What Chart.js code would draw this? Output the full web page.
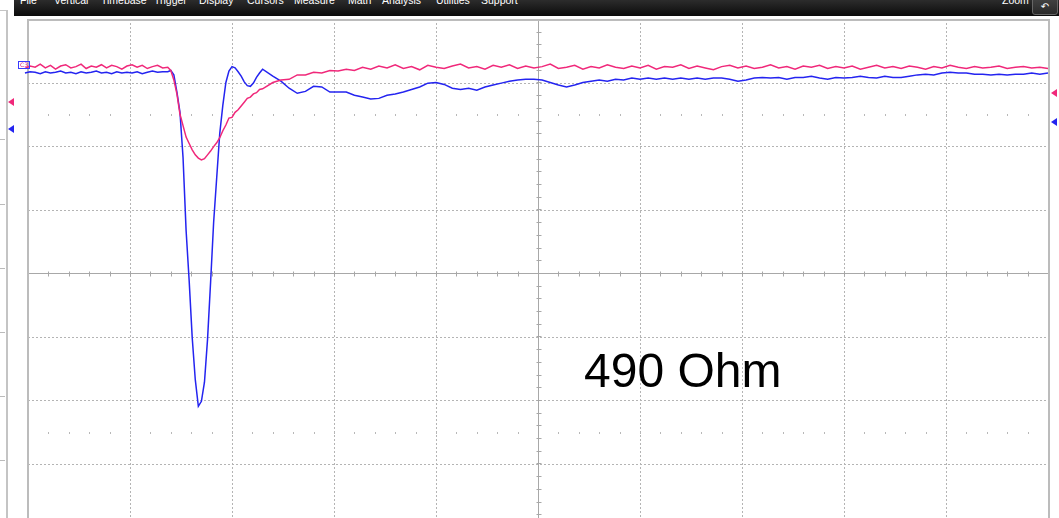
<!DOCTYPE html>
<html>
<head>
<meta charset="utf-8">
<script src="https://cdn.jsdelivr.net/npm/chart.js@4.4.1/dist/chart.umd.min.js"></script>
<style>
  html, body { margin: 0; padding: 0; background: #fff; overflow: hidden; width: 1059px; height: 518px; }
  #wrap { position: absolute; left: 0; top: 0; width: 1059px; height: 540px; }
  #menubar { position: absolute; left: 14px; top: 0; width: 1045px; height: 16px;
    background: linear-gradient(#2c2c2c, #0b0b0b); overflow: hidden; }
  .menu { position: absolute; top: -6px; color: #fff; font: 10.5px "Liberation Sans", Arial, sans-serif; white-space: nowrap; }
  #zoomBtn { position: absolute; left: 1032px; top: -3px; width: 24px; height: 16px; border: 1px solid #666;
    border-radius: 3px; background: linear-gradient(#444, #2a2a2a); color: #fff; font: 10px "DejaVu Sans", sans-serif;
    text-align: center; line-height: 18px; }
  #sidePanel { position: absolute; left: 0; top: 10px; width: 6px; height: 520px; border-top: 1px solid #c4c4c4; border-right: 2px solid #c4c4c4; }
  .sideTick { position: absolute; left: 0; width: 5px; height: 0; border-top: 1px dashed #bbb; }
  .arrowL { position: absolute; width: 0; height: 0; border-top: 4px solid transparent; border-bottom: 4px solid transparent; border-right: 6px solid; }
  #label490 { position: absolute; left: 584px; top: 347px; font: 48px/1 "Liberation Sans", Arial, sans-serif; color: #000; white-space: nowrap; }
  #chTag { position: absolute; left: 18px; top: 61px; font: 6px "DejaVu Sans", sans-serif; color: #e0207a; border: 1px solid #3a3aff; padding: 0 1px; line-height: 6px; }
</style>
</head>
<body>
<div id="wrap"><canvas id="scope"></canvas></div>

<div id="sidePanel"></div>
<div class="sideTick" style="top:139px"></div>
<div class="sideTick" style="top:204px"></div>
<div class="sideTick" style="top:268px;border-top-style:solid"></div>
<div class="sideTick" style="top:332px"></div>
<div class="sideTick" style="top:396px"></div>
<div class="sideTick" style="top:460px"></div>

<div id="menubar">
  <span class="menu" style="left:6px">File</span>
  <span class="menu" style="left:40px">Vertical</span>
  <span class="menu" style="left:87px">Timebase</span>
  <span class="menu" style="left:140px">Trigger</span>
  <span class="menu" style="left:185px">Display</span>
  <span class="menu" style="left:233px">Cursors</span>
  <span class="menu" style="left:280px">Measure</span>
  <span class="menu" style="left:334px">Math</span>
  <span class="menu" style="left:368px">Analysis</span>
  <span class="menu" style="left:422px">Utilities</span>
  <span class="menu" style="left:467px">Support</span>
  <span class="menu" style="left:988px">Zoom</span>
</div>
<div id="zoomBtn">&#x21B6;</div>

<div class="arrowL" style="left:8px;top:98px;border-right-color:#f0287a"></div>
<div class="arrowL" style="left:8px;top:125px;border-right-color:#2424f0"></div>
<div class="arrowL" style="left:1051px;top:89px;border-right-color:#f0287a"></div>
<div class="arrowL" style="left:1051px;top:118px;border-right-color:#2424f0"></div>
<div id="chTag">C3</div>

<div id="label490">490 Ohm</div>

<script>
// time in horizontal divisions, amplitude in vertical divisions
const timeDiv = [
  -0.08, -0.03, 0.02, 0.07, 0.12, 0.17, 0.22, 0.27, 0.32, 0.37,
  0.42, 0.47, 0.52, 0.57, 0.62, 0.67, 0.72, 0.77, 0.82, 0.87,
  0.92, 0.97, 1.02, 1.07, 1.12, 1.17, 1.22, 1.27, 1.32, 1.37,
  1.40, 1.43, 1.46, 1.49, 1.52, 1.55, 1.58, 1.61, 1.64, 1.67,
  1.70, 1.73, 1.76, 1.79, 1.82, 1.85, 1.88, 1.91, 1.94, 1.97,
  2.00, 2.03, 2.06, 2.09, 2.12, 2.15, 2.18, 2.21, 2.24, 2.27, 2.30,
  2.40, 2.48, 2.56, 2.64, 2.72, 2.80, 2.88, 2.96, 3.04, 3.12,
  3.20, 3.28, 3.36, 3.44, 3.52, 3.60, 3.68, 3.76, 3.84, 3.92,
  4.00, 4.08, 4.16, 4.24, 4.32, 4.40, 4.48, 4.56, 4.64, 4.72,
  4.80, 4.88, 4.96, 5.04, 5.12, 5.20, 5.28, 5.36, 5.44, 5.52,
  5.60, 5.68, 5.76, 5.84, 5.92, 6.00, 6.08, 6.16, 6.24, 6.32,
  6.40, 6.48, 6.56, 6.64, 6.72, 6.80, 6.88, 6.96, 7.04, 7.12,
  7.20, 7.28, 7.36, 7.44, 7.52, 7.60, 7.68, 7.76, 7.84, 7.92,
  8.00, 8.08, 8.16, 8.24, 8.32, 8.40, 8.48, 8.56, 8.64, 8.72,
  8.80, 8.88, 8.96, 9.04, 9.12, 9.20, 9.28, 9.36, 9.44, 9.52,
  9.60, 9.68, 9.76, 9.84, 9.92, 10.00
];

const pinkTrace = [
  3.27, 3.22, 3.26, 3.24, 3.29, 3.23, 3.27, 3.21, 3.26, 3.28,
  3.23, 3.25, 3.29, 3.22, 3.26, 3.24, 3.28, 3.23, 3.27, 3.25,
  3.21, 3.26, 3.28, 3.24, 3.27, 3.22, 3.25, 3.27, 3.23, 3.24,
  3.19, 3.04, 2.82, 2.50, 2.32, 2.14, 2.04, 1.94, 1.86, 1.81,
  1.78, 1.80, 1.86, 1.92, 1.99, 2.05, 2.13, 2.24, 2.33, 2.44,
  2.45, 2.53, 2.57, 2.63, 2.69, 2.75, 2.77, 2.82, 2.84, 2.89, 2.90,
  3.00, 3.04, 3.05, 3.12, 3.12, 3.16, 3.15, 3.19, 3.18, 3.21,
  3.19, 3.24, 3.21, 3.26, 3.23, 3.28, 3.22, 3.25, 3.20, 3.27,
  3.24, 3.22, 3.26, 3.29, 3.23, 3.25, 3.21, 3.27, 3.24, 3.28,
  3.22, 3.26, 3.23, 3.25, 3.29, 3.22, 3.24, 3.27, 3.21, 3.25,
  3.23, 3.28, 3.24, 3.22, 3.26, 3.23, 3.27, 3.21, 3.25, 3.24,
  3.28, 3.22, 3.26, 3.23, 3.20, 3.25, 3.27, 3.23, 3.26, 3.22,
  3.24, 3.28, 3.23, 3.25, 3.21, 3.26, 3.24, 3.27, 3.22, 3.25,
  3.23, 3.26, 3.21, 3.24, 3.27, 3.23, 3.25, 3.22, 3.26, 3.24,
  3.21, 3.25, 3.23, 3.27, 3.24, 3.22, 3.25, 3.23, 3.24, 3.26,
  3.22, 3.24, 3.25, 3.23, 3.24, 3.22
];

const blueTrace = [
  3.17, 3.15, 3.17, 3.16, 3.14, 3.17, 3.15, 3.16, 3.18, 3.15,
  3.16, 3.14, 3.17, 3.15, 3.16, 3.18, 3.15, 3.16, 3.14, 3.17,
  3.15, 3.16, 3.15, 3.17, 3.14, 3.16, 3.18, 3.16, 3.17, 3.17,
  3.19, 3.12, 2.85, 2.53, 1.82, 0.67, -0.12, -1.02, -1.68, -2.10,
  -2.02, -1.72, -1.05, -0.15, 0.80, 1.50, 2.20, 2.64, 3.00, 3.18,
  3.25, 3.23, 3.17, 3.10, 3.01, 2.95, 2.94, 2.99, 3.08, 3.15, 3.21,
  3.10, 3.02, 2.91, 2.83, 2.86, 2.94, 2.93, 2.85, 2.85, 2.85,
  2.80, 2.77, 2.74, 2.75, 2.80, 2.82, 2.85, 2.89, 2.93, 2.99,
  3.00, 2.97, 2.91, 2.89, 2.91, 2.88, 2.93, 2.96, 2.99, 3.02,
  3.04, 3.05, 3.05, 3.04, 3.00, 2.96, 2.93, 2.96, 3.00, 3.02,
  3.04, 3.02, 3.05, 3.04, 3.07, 3.05, 3.07, 3.05, 3.07, 3.05,
  3.07, 3.05, 3.07, 3.05, 3.07, 3.07, 3.05, 3.02, 3.04, 3.07,
  3.08, 3.07, 3.08, 3.05, 3.08, 3.08, 3.10, 3.07, 3.05, 3.08,
  3.07, 3.08, 3.10, 3.08, 3.07, 3.10, 3.08, 3.08, 3.10, 3.12,
  3.13, 3.12, 3.15, 3.16, 3.15, 3.15, 3.13, 3.13, 3.12, 3.13,
  3.12, 3.13, 3.13, 3.15, 3.13, 3.15
];

const H_DIVS = [0, 1, 2, 3, 4, 5, 6, 7, 8, 9, 10];
const V_DIVS = [-4, -3, -2, -1, 0, 1, 2, 3, 4];

const toPoints = vals => vals.map((v, i) => ({ x: timeDiv[i], y: v }));

/* ===== graticule ===== */

const graticule = {
  id: 'graticule',
  beforeDatasetsDraw(chart) {
    const { ctx, chartArea: a, scales: { x, y } } = chart;
    ctx.save();

    // dashed grid
    ctx.strokeStyle = '#b4b4b4';
    ctx.lineWidth = 1;
    ctx.setLineDash([2, 2]);
    H_DIVS.forEach(d => {
      if (d === 0 || d === 5 || d === 10) return;
      const px = Math.round(x.getPixelForValue(d)) + 0.5;
      ctx.beginPath(); ctx.moveTo(px, a.top); ctx.lineTo(px, a.bottom); ctx.stroke();
    });
    V_DIVS.forEach(d => {
      if (d === 0 || d === 4 || d === -4) return;
      const py = Math.round(y.getPixelForValue(d)) + 0.5;
      ctx.beginPath(); ctx.moveTo(a.left, py); ctx.lineTo(a.right, py); ctx.stroke();
    });
    ctx.setLineDash([]);

    // minor dots on +-2.5 rows
    ctx.fillStyle = '#b8b8b8';
    [2.5, -2.5].forEach(r => {
      const py = Math.round(y.getPixelForValue(r));
      for (let t = 0.2; t < 10; t += 0.2) {
        const px = Math.round(x.getPixelForValue(t));
        ctx.fillRect(px, py, 1, 2);
      }
    });

    // centre axes with ticks
    ctx.strokeStyle = '#a8a8a8';
    const cx = Math.round(x.getPixelForValue(5)) + 0.5;
    const cy = Math.round(y.getPixelForValue(0)) + 0.5;
    ctx.beginPath();
    ctx.moveTo(cx, a.top); ctx.lineTo(cx, a.bottom);
    ctx.moveTo(a.left, cy); ctx.lineTo(a.right, cy);
    ctx.stroke();
    ctx.beginPath();
    for (let t = 0.2; t < 10; t += 0.2) {
      const px = Math.round(x.getPixelForValue(t)) + 0.5;
      ctx.moveTo(px, cy - 2); ctx.lineTo(px, cy + 3);
    }
    for (let v = -3.8; v < 4; v += 0.2) {
      const py = Math.round(y.getPixelForValue(v)) + 0.5;
      ctx.moveTo(cx - 2, py); ctx.lineTo(cx + 3, py);
    }
    ctx.stroke();

    // frame
    ctx.strokeStyle = '#bcbcbc';
    ctx.lineWidth = 2;
    ctx.strokeRect(a.left, a.top + 1, a.right - a.left + 1, a.bottom - a.top + 10);
    ctx.restore();
  }
};

/* ===== chart ===== */

new Chart(document.getElementById('scope'), {
  type: 'line',
  data: {
    datasets: [
      {
        label: 'C2',
        data: toPoints(pinkTrace),
        borderColor: '#f0287a',
        borderWidth: 1.5,
        pointRadius: 0,
        tension: 0,
        clip: false
      },
      {
        label: 'C1',
        data: toPoints(blueTrace),
        borderColor: '#2424f0',
        borderWidth: 1.5,
        pointRadius: 0,
        tension: 0,
        clip: false
      }
    ]
  },
  options: {
    responsive: true,
    maintainAspectRatio: false,
    devicePixelRatio: 1,
    animation: false,
    events: [],
    layout: { padding: { left: 28, right: 11, top: 19, bottom: 13 } },
    scales: {
      x: { type: 'linear', min: 0, max: 10, display: false },
      y: { min: -4, max: 4, display: false }
    },
    plugins: { legend: { display: false }, tooltip: { enabled: false } }
  },
  plugins: [graticule]
});
</script>
</body>
</html>
